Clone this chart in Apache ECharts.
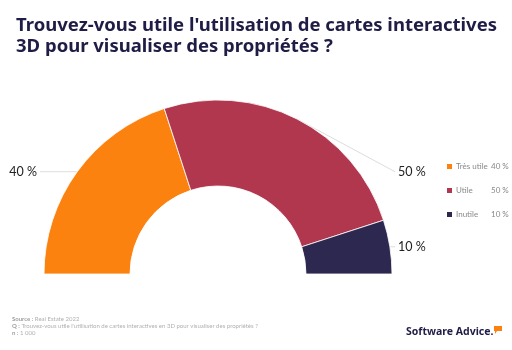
<!DOCTYPE html>
<html>
<head>
<meta charset="utf-8">
<script src="https://cdn.jsdelivr.net/npm/echarts@6/dist/echarts.min.js"></script>
<style>
  html, body { margin: 0; padding: 0; background: #fff; }
  #main { width: 512px; height: 350px; }
</style>
</head>
<body>
<div id="main"></div>
<script>
// données
const categories = ["Très utile", "Utile", "Inutile"];
const values = [40, 50, 10];
const colors = ["#FC820F", "#B1374F", "#2D2850"];

const cx = 218, cy = 274, rIn = 88, rOut = 174;
const total = values.reduce((a, b) => a + b, 0);

// y du point milieu de la première tranche (pour aligner 40 % et 50 %)
const firstMidAngle = Math.PI - (values[0] / total) * Math.PI / 2;
const leftLabelY = cy - rOut * Math.sin(firstMidAngle);

const chart = echarts.init(document.getElementById("main"));

const option = {
  backgroundColor: "#fff",
  animation: false,
  title: {
    text: "Trouvez-vous utile l'utilisation de cartes interactives\n3D pour visualiser des propriétés ?",
    left: 11,
    top: 10,
    textStyle: {
      fontFamily: "Noto Sans",
      fontSize: 18.5,
      fontWeight: "bold",
      color: "#1F1C46",
      lineHeight: 21
    }
  },
  legend: {
    orient: "vertical",
    left: 440,
    top: 157,
    itemWidth: 7,
    itemHeight: 7,
    itemGap: 15,
    icon: "rect",
    data: categories,
    formatter: function (name) {
      const i = categories.indexOf(name);
      return "{n|" + name + "}{v|" + values[i] + " %}";
    },
    textStyle: {
      fontFamily: "Lato",
      fontSize: 8,
      color: "#888",
      padding: [0, 0, 0, -2],
      rich: {
        n: { width: 35, fontSize: 8, color: "#888", fontFamily: "Lato" },
        v: { fontSize: 8, color: "#888", fontFamily: "Lato" }
      }
    }
  },
  series: [
    {
      type: "pie",
      center: [cx, cy],
      radius: [rIn, rOut],
      startAngle: 180,
      endAngle: 0,
      clockwise: true,
      itemStyle: { borderColor: "#fff", borderWidth: 0.8 },
      label: {
        show: true,
        formatter: "{c} %",
        fontFamily: "Lato",
        fontSize: 12.5,
        color: "#222"
      },
      labelLine: {
        show: true,
        length: 0,
        length2: 10,
        lineStyle: { color: "#ddd", width: 1 }
      },
      labelLayout: function (p) {
        const pts = p.labelLinePoints;
        if (!pts) return {};
        const start = pts[0];
        const isLeft = start[0] < cx;
        const lx = isLeft ? cx - rOut - 7 : cx + rOut + 6;
        const ly = p.dataIndex === 1 ? leftLabelY : start[1];
        return {
          x: lx,
          y: ly,
          align: isLeft ? "right" : "left",
          verticalAlign: "middle",
          labelLinePoints: [start, [isLeft ? lx + 3 : lx - 3, ly], [isLeft ? lx + 3 : lx - 3, ly]]
        };
      },
      data: categories.map((c, i) => ({
        name: c,
        value: values[i],
        itemStyle: { color: colors[i] }
      }))
    }
  ],
  graphic: [
    {
      type: "text",
      left: 12,
      top: 315,
      style: {
        text: "{b|Source :} Real Estate 2022\n{b|Q :} Trouvez-vous utile l'utilisation de cartes interactives en 3D pour visualiser des propriétés ?\n{b|n :} 1 000",
        fontFamily: "Lato",
        fontSize: 6,
        lineHeight: 7.2,
        fill: "#b0b0b0",
        rich: {
          b: { fontWeight: "bold", fontFamily: "Lato", fontSize: 6, fill: "#a0a0a0" }
        }
      }
    },
    {
      type: "text",
      left: 406,
      top: 327,
      style: {
        text: "Software Advice.",
        fontFamily: "Noto Sans",
        fontWeight: "bold",
        fontSize: 10.5,
        fill: "#1F1C46"
      }
    },
    {
      type: "polygon",
      shape: { points: [[494, 326], [502, 326], [502, 331], [497, 331], [495, 334], [495, 331], [494, 331]] },
      style: { fill: "#FC820F" }
    }
  ]
};

chart.setOption(option);
</script>
</body>
</html>
